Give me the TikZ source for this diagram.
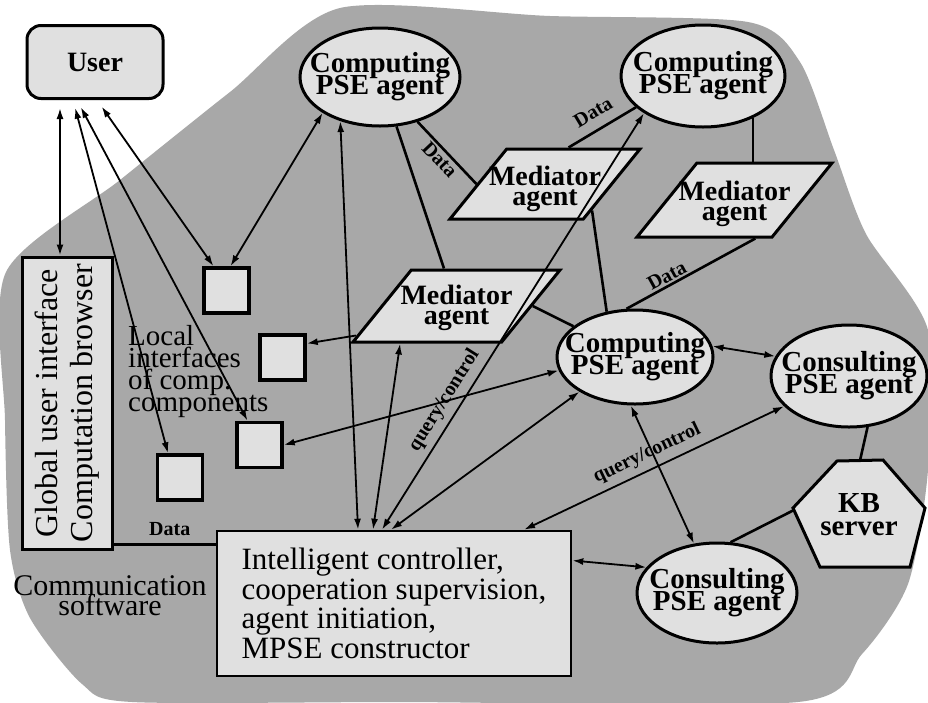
\documentclass[tikz,border=0pt]{standalone}
\usepackage{fontspec}
\setmainfont{Liberation Serif}
\usetikzlibrary{shapes.geometric,arrows.meta}

\begin{document}
\begin{tikzpicture}[
    x=1pt, y=-1pt,
    stipple/.style={fill=black!34},
    shapeline/.style={draw=black, line width=3pt, fill=black!12},
    agent/.style={shapeline, ellipse, inner sep=0pt},
    agenttxt/.style={font={\bfseries\fontsize{29}{22}\selectfont\lineskiplimit=-60pt}, align=center},
    mediator/.style={
        shapeline, trapezium, trapezium left angle=51, trapezium right angle=129,
        trapezium stretches body, inner sep=0pt, text depth=0pt,
    },
    medtxt/.style={font={\bfseries\fontsize{28}{20}\selectfont\lineskiplimit=-60pt}, align=center},
    iface/.style={shapeline, line width=3.5pt, minimum size=45pt, inner sep=0pt},
    box/.style={shapeline, line width=2.6pt},
    plaintxt/.style={font={\fontsize{29}{22}\selectfont\lineskiplimit=-60pt}, align=left},
    lbl/.style={font={\bfseries\fontsize{20}{20}\selectfont}, inner sep=2pt},
    arr/.style={<->, >={Latex[length=11pt,width=7pt]}, line width=1.8pt},
    sarr/.style={->, >={Latex[length=11pt,width=7pt]}, line width=1.8pt},
    link/.style={line width=2.6pt},
]

% ════════════════════════════════════════
% Page and stippled background
% ════════════════════════════════════════
\path[use as bounding box, fill=white] (0,0) rectangle (928,702);
\fill[stipple] plot[smooth cycle, tension=0.45] coordinates {
    (6,272) (120,180) (230,92) (340,8) (550,16) (748,22) (800,62) (834,150)
    (866,234) (928,330) (928,470) (908,584) (862,654) (798,702) (400,702)
    (132,702) (82,684) (30,618) (10,550) (5,420)};

% ════════════════════════════════════════
% User side
% ════════════════════════════════════════
\node[box, line width=3pt, rounded corners=14pt, minimum width=136pt, minimum height=73pt,
    font={\bfseries\fontsize{28}{28}\selectfont}] (user) at (95,62) {User};

\node[box, line width=3pt, minimum width=90pt, minimum height=292pt] (glob) at (67,403) {};
\node[rotate=90, font={\fontsize{32}{35}\selectfont\lineskiplimit=-60pt}, align=center] (globtxt)
    at (glob.center) {Global user interface\\Computation browser};

% local interfaces of the components
\node[iface] (sq1) at (226.5,290.5) {};
\node[iface] (sq2) at (282.5,357.5) {};
\node[iface] (sq3) at (259.5,445) {};
\node[iface] (sq4) at (180,477.5) {};
\node[plaintxt, anchor=north west, inner sep=0pt] (loctxt) at (128,325)
    {Local\\interfaces\\of comp.\\components};

\node[font={\fontsize{30}{20}\selectfont\lineskiplimit=-60pt}, align=center] (comm)
    at (110,596) {Communication\\software};

% ════════════════════════════════════════
% Controller
% ════════════════════════════════════════
\node[box, minimum width=354pt, minimum height=145pt, align=left,
    font={\fontsize{31}{29.5}\selectfont\lineskiplimit=-60pt}] (ctrl) at (394,603.5)
    {Intelligent controller,\\cooperation supervision,\\agent initiation,\\MPSE constructor};

% ════════════════════════════════════════
% PSE agents
% ════════════════════════════════════════
\node[agent, minimum width=160pt, minimum height=98pt] (c1) at (380,77) {};
\node[agenttxt] (c1t) at (c1) {Computing\\PSE agent};

\node[agent, minimum width=164pt, minimum height=102pt] (c2) at (703,76) {};
\node[agenttxt] (c2t) at (c2) {Computing\\PSE agent};

\node[agent, minimum width=156pt, minimum height=94pt] (c3) at (635,357) {};
\node[agenttxt] (c3t) at (c3) {Computing\\PSE agent};

\node[agent, minimum width=156pt, minimum height=102pt] (s1) at (849,376) {};
\node[agenttxt] (s1t) at (s1) {Consulting\\PSE agent};

\node[agent, minimum width=160pt, minimum height=100pt] (s2) at (717,593) {};
\node[agenttxt] (s2t) at (s2) {Consulting\\PSE agent};

% ════════════════════════════════════════
% Mediator agents
% ════════════════════════════════════════
\node[mediator, minimum width=190pt, text height=70pt] (m1) at (545,184) {};
\node[medtxt] (m1t) at ([yshift=-5pt]m1.center) {Mediator\\agent};

\node[mediator, minimum width=195pt, text height=74pt] (m2) at (734.5,200) {};
\node[medtxt] (m2t) at ([yshift=-4pt]m2.center) {Mediator\\agent};

\node[mediator, minimum width=207pt, text height=72pt] (m3) at (456.5,306) {};
\node[medtxt] (m3t) at ([yshift=-2pt]m3.center) {Mediator\\agent};

% ════════════════════════════════════════
% KB server
% ════════════════════════════════════════
\draw[shapeline] (837,461) -- (883,460) -- (925,508) -- (910,567) -- (820,567) -- (793,508) -- cycle;
\node[font={\bfseries\fontsize{29}{23}\selectfont\lineskiplimit=-60pt}, align=center] (kb)
    at (859,515) {KB\\server};
\coordinate (kbtop) at (860,460.5);
\coordinate (kbleft) at (794,510);

% ════════════════════════════════════════
% Connections of the user
% ════════════════════════════════════════
\draw[arr, shorten <=8pt] ([xshift=-35pt]user.south) -- ([xshift=-35pt]user.south |- glob.north);
\draw[arr, shorten <=8pt] ([xshift=-22pt]user.south) -- ([xshift=-12pt]sq4.north);
\draw[arr, shorten <=8pt] ([xshift=-18pt]user.south) -- ([xshift=-12pt]sq3.north);
\draw[arr, shorten <=8pt] ([xshift=2pt]user.south) -- ([xshift=-13pt]sq1.north);
\draw[link] ([yshift=6pt]glob.south east) -- ([yshift=6pt]glob.south east -| ctrl.west)
    node[lbl, pos=0.55, above=6pt] {Data};

% ════════════════════════════════════════
% Agents and interfaces
% ════════════════════════════════════════
\draw[arr] (c1.212) -- ([xshift=4pt]sq1.north);
\draw[sarr] ([xshift=6pt,yshift=8pt]m3.bottom left corner) -- ([yshift=14pt]sq2.east);
\draw[arr] (c3.190) -- (sq3.east);

% agents and mediators
\draw[link] (c1) -- (m3);
\draw[link] (c1.-50) -- (m1.left side)
    node[lbl, sloped, midway, below] {Data};
\draw[link] ([xshift=-6pt]m1.top side) -- (c2.205)
    node[lbl, sloped, midway, above=8pt] {Data};
\draw[link] (c2.-40) -- (c2.-40 |- m2.top side);
\draw[link] ([xshift=8pt,yshift=10pt]m1.bottom right corner) -- (c3.122);
\draw[link] (c3.100) -- ([xshift=52pt]m2.bottom side)
    node[lbl, sloped, pos=0.35, above] {Data};
\draw[link] (m3.right side) -- (c3);

% ════════════════════════════════════════
% Controller links
% ════════════════════════════════════════
\draw[arr] (c1.228) -- ([xshift=-36pt]ctrl.north);
\draw[arr] ([xshift=-26pt]m3.bottom side) -- ([xshift=-21pt]ctrl.north);
\draw[arr] ([xshift=-12pt]ctrl.north) -- (c2.south west)
    node[lbl, sloped, pos=0.29, above=4pt] {query/control};
\draw[arr] (c3.212) -- ([xshift=-3pt]ctrl.north);
\draw[arr] ([xshift=130pt]ctrl.north) -- (s1.205)
    node[lbl, sloped, midway, above=4pt] {query/control};
\draw[arr] ([yshift=43pt]ctrl.east) -- (s2.160);

% ════════════════════════════════════════
% Consulting side
% ════════════════════════════════════════
\draw[arr] (c3.8) -- (s1.165);
\draw[arr] (c3.265) -- (s2.115);
\draw[link] (s1.-70) -- (kbtop);
\draw[link] (kbleft) -- (s2.75);

\end{tikzpicture}
\end{document}
